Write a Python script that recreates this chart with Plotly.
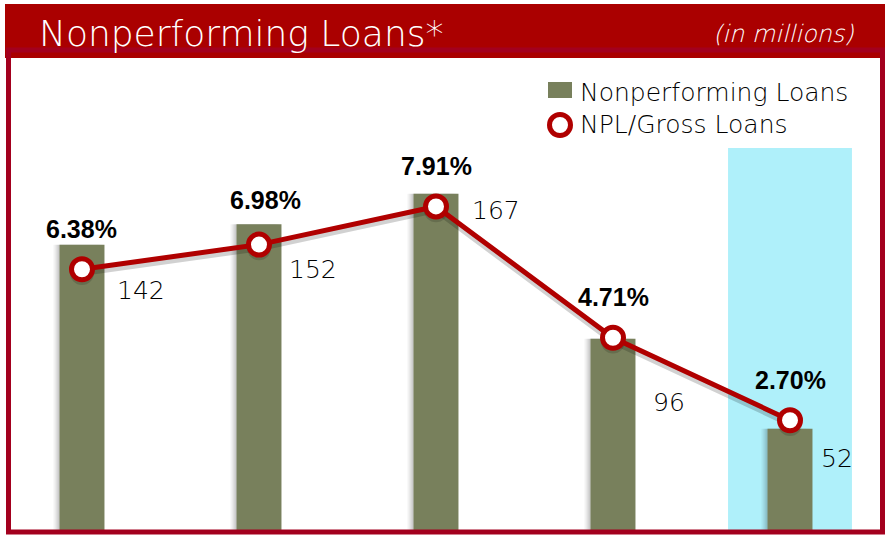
import plotly.graph_objects as go

# ---- data ----
periods = ["P1", "P2", "P3", "P4", "P5"]
npl_values = [142, 152, 167, 96, 52]            # Nonperforming Loans (millions)
npl_ratio = [6.38, 6.98, 7.91, 4.71, 2.70]      # NPL / Gross Loans (%)
bar_name = "Nonperforming Loans"
line_name = "NPL/Gross Loans"
title_text = "Nonperforming Loans*"
unit_text = "(in millions)"

# ---- style ----
W, H = 886, 536
PLOT_L, PLOT_R, PLOT_T, PLOT_B = 11, 880, 58, 530      # plot area in pixels
L, R, T, B = PLOT_L, W - PLOT_R, PLOT_T, H - PLOT_B
PW, PH = W - L - R, H - T - B
BAR_C = "#78805C"
RED = "#B00000"
HEAD = "#AA0000"
BORDER = "#A3001E"
CYAN = "#AFF0FA"
THIN = "DejaVu Sans"
BOLD = "Liberation Sans"

# pixel offsets of the value labels (style only)
pct_shift = [(0, 40), (7, 45), (0, 40), (0, 41), (0, 40)]
num_shift = [(33, -46), (28, -45), (34, -17), (38, -64), (29, -30)]

def px(X):
    return (X - PLOT_L) / PW

def py(Y):
    return (PLOT_B - Y) / PH

BW = 0.254
STEP = 177.0

fig = go.Figure()

# bar shadow layers
for k, a in [(6, 0.05), (4, 0.07), (2, 0.09)]:
    fig.add_trace(go.Bar(
        x=periods, y=npl_values, width=BW, offset=-BW / 2 - k / STEP,
        marker=dict(color=f"rgba(0,0,0,{a})", line=dict(width=0)),
        showlegend=False, hoverinfo="skip", yaxis="y"))

fig.add_trace(go.Bar(
    x=periods, y=npl_values, name=bar_name, width=BW, offset=-BW / 2,
    marker=dict(color=BAR_C, line=dict(width=0)), showlegend=False, yaxis="y"))

# line shadow
fig.add_trace(go.Scatter(
    x=periods, y=[v - 0.09 for v in npl_ratio], yaxis="y2", mode="lines+markers",
    line=dict(color="rgba(0,0,0,0.18)", width=6),
    marker=dict(size=24, color="rgba(0,0,0,0.15)"),
    showlegend=False, hoverinfo="skip"))

fig.add_trace(go.Scatter(
    x=periods, y=npl_ratio, name=line_name, yaxis="y2", mode="lines+markers",
    line=dict(color=RED, width=5),
    marker=dict(size=21, color="white", line=dict(color=RED, width=5)),
    showlegend=False))

annotations = []
for i, (p, v, r) in enumerate(zip(periods, npl_values, npl_ratio)):
    annotations.append(dict(
        x=p, y=r, xref="x", yref="y2", text=f"<b>{r:.2f}%</b>", showarrow=False,
        xanchor="center", yanchor="middle", xshift=pct_shift[i][0], yshift=pct_shift[i][1],
        font=dict(family=BOLD, size=25, color="black")))
    annotations.append(dict(
        x=p, y=v, xref="x", yref="y", text=str(v), showarrow=False,
        xanchor="left", yanchor="middle", xshift=num_shift[i][0], yshift=num_shift[i][1],
        font=dict(family=THIN, size=25, color="black", weight=200)))

annotations.append(dict(
    x=px(37), y=py(34), xref="paper", yref="paper", text=title_text, showarrow=False,
    xanchor="left", yanchor="middle", font=dict(family=THIN, size=36, color="white", weight=200)))
annotations.append(dict(
    x=px(856), y=py(34), xref="paper", yref="paper", text=unit_text, showarrow=False,
    xanchor="right", yanchor="middle",
    font=dict(family="DejaVu Sans Light, DejaVu Sans", size=24, color="white", weight=200, style="italic")))
annotations.append(dict(
    x=px(578), y=py(92), xref="paper", yref="paper", text=bar_name, showarrow=False,
    xanchor="left", yanchor="middle", font=dict(family=THIN, size=25, color="black", weight=200)))
annotations.append(dict(
    x=px(578), y=py(125), xref="paper", yref="paper", text=line_name, showarrow=False,
    xanchor="left", yanchor="middle", font=dict(family=THIN, size=25, color="black", weight=200)))

shapes = [
    # highlight of last period
    dict(type="rect", xref="x", yref="paper", x0=3.65, x1=4.35, y0=0, y1=py(148),
         fillcolor=CYAN, line=dict(width=0), layer="below"),
    # header band
    dict(type="rect", xref="paper", yref="paper", x0=px(5), x1=px(885), y0=py(58), y1=py(4),
         fillcolor=HEAD, line=dict(width=0), layer="above"),
    # frame
    dict(type="rect", xref="paper", yref="paper", x0=px(8.5), x1=px(882.5), y0=py(532), y1=py(50),
         fillcolor="rgba(0,0,0,0)", line=dict(color=BORDER, width=5), layer="above"),
    # legend symbols
    dict(type="rect", xref="paper", yref="paper", x0=px(548), x1=px(572), y0=py(98), y1=py(82),
         fillcolor=BAR_C, line=dict(width=0)),
    dict(type="circle", xref="paper", yref="paper", x0=px(549.5), x1=px(570.5), y0=py(135.5), y1=py(114.5),
         fillcolor="white", line=dict(color=RED, width=5)),
]

fig.update_layout(
    width=W, height=H, margin=dict(l=L, r=R, t=T, b=B, pad=0),
    paper_bgcolor="white", plot_bgcolor="white", barmode="overlay",
    showlegend=False,
    xaxis=dict(type="category", range=[-0.4011, 4.5085], visible=False, fixedrange=True),
    yaxis=dict(range=[2.446, 233.4], visible=False, fixedrange=True),
    yaxis2=dict(range=[0.0244, 11.528], overlaying="y", visible=False, fixedrange=True),
    annotations=annotations, shapes=shapes,
)

fig.write_html(
    "out.html",
    config={"displayModeBar": False},
    post_script="document.body.style.margin='0';document.body.style.overflow='hidden';",
)
